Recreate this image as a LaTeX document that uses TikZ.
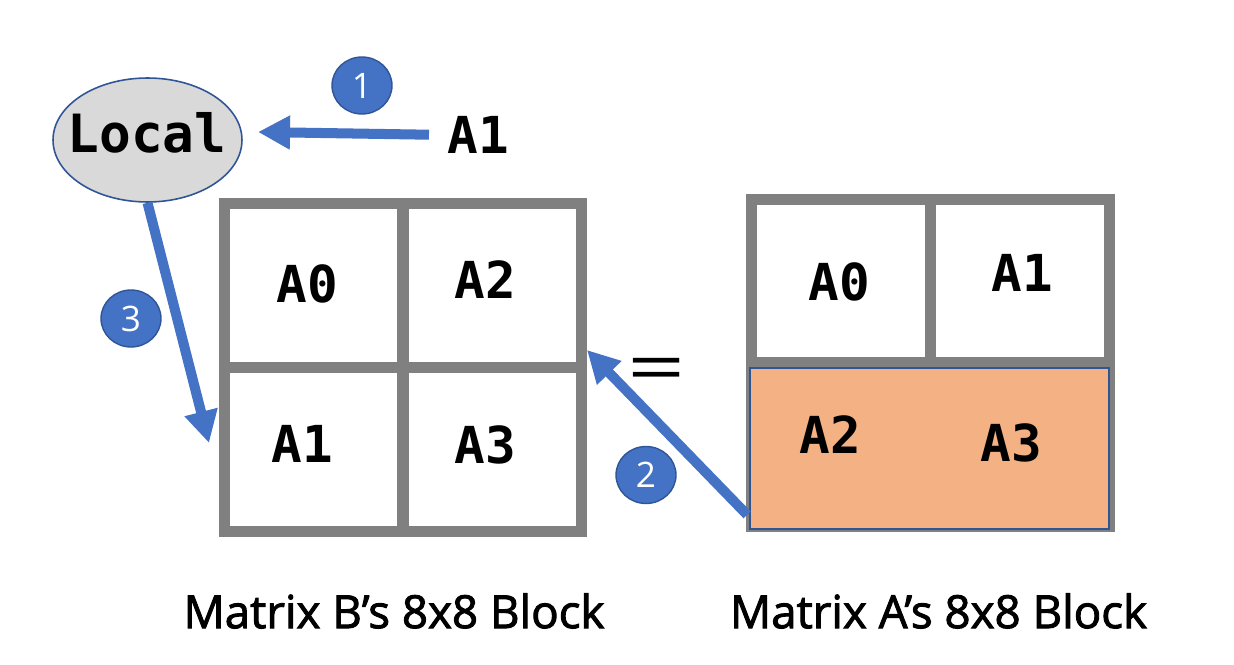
\documentclass[tikz,border=0pt]{standalone}
\usepackage{fontspec}
\setmainfont{Open Sans}
\setmonofont{DejaVu Sans Mono}
\usepackage{tikz}
\usetikzlibrary{
  arrows.meta,
  calc,
  shapes.geometric
}
\definecolor{StepBlue}{HTML}{4472C4}
\definecolor{EdgeBlue}{HTML}{2F5597}
\definecolor{GridGray}{HTML}{808080}
\definecolor{LocalGray}{HTML}{D9D9D9}
\definecolor{HalfOrange}{HTML}{F4B183}
\newfontfamily\captionfont[FakeBold=2]{Open Sans}

\begin{document}
\begin{tikzpicture}[
  x=0.02cm, y=-0.02cm,
  cell/.style={font=\fontsize{29}{34}\selectfont\ttfamily\bfseries, inner sep=0pt},
  block/.style={draw=GridGray, line width=6.3pt, inner sep=0pt},
  gridline/.style={draw=GridGray, line width=6.3pt},
  badge/.style={ellipse, fill=StepBlue, draw=EdgeBlue, line width=0.8pt,
                minimum width=1.2cm, minimum height=1.14cm, inner sep=0pt,
                text=white, font=\fontsize{20}{24}\selectfont},
  flow/.style={draw=StepBlue, line width=5.7pt,
               -{Triangle[length=0.64cm, width=0.64cm]}},
  caption/.style={font=\captionfont\fontsize{26}{30}\selectfont, inner sep=0pt},
]
  \useasboundingbox (0,0) rectangle (1234,665);

  % Matrix B's block
  \node[block, minimum width=7.14cm, minimum height=6.56cm] (gridB) at (403,367.5) {};
  \draw[gridline] (gridB.north) -- (gridB.south);
  \draw[gridline] (gridB.west) -- (gridB.east);
  \node[cell] (b0) at (307.5,283.5) {A0};
  \node[cell] (b2) at (485,280) {A2};
  \node[cell] (b1) at (302.5,443.5) {A1};
  \node[cell] (b3) at (485.5,444.5) {A3};

  % Matrix A's block
  \node[block, minimum width=7.16cm, minimum height=6.54cm] (gridA) at (930.5,363) {};
  \draw[gridline] (gridA.north) -- (gridA.center);
  \draw[gridline] (gridA.west) -- (gridA.east);
  \node[fill=HalfOrange, draw=EdgeBlue, line width=1pt, inner sep=0pt,
        minimum width=7.18cm, minimum height=3.22cm] (half) at (929.5,448.5) {};
  \node[cell] (a0) at (839.5,281.5) {A0};
  \node[cell] (a1) at (1022.5,273) {A1};
  \node[cell] (a2) at (830,434.5) {A2};
  \node[cell] (a3) at (1011.5,442.5) {A3};

  \node[font=\fontsize{40}{44}\selectfont, inner sep=0pt] (eq) at (656.5,375) {\scalebox{1.45}[1]{=}};

  % local register
  \node[ellipse, fill=LocalGray, draw=EdgeBlue, line width=0.9pt,
        minimum width=3.78cm, minimum height=2.48cm, inner sep=0pt] (local) at (147.5,140) {};
  \node[font=\fontsize{30}{34}\selectfont\ttfamily\bfseries, inner sep=0pt] (localtxt) at (147,133) {Local};
  \node[cell] (src) at (478,135) {A1};

  \coordinate (tip1) at (258,132);
  \coordinate (tip2) at (587,350);
  \coordinate (tip3) at (209,443);

  \draw[flow, shorten <=0.36cm] (src.west) -- (tip1);
  \draw[flow] ([xshift=-0.04cm, yshift=0.3cm]half.south west) -- (tip2);
  \draw[flow] (local.south) -- (tip3);

  \node[badge] (n1) at (362,85.5) {1};
  \node[badge] (n2) at (646,475) {2};
  \node[badge] (n3) at (131,318.5) {3};

  \node[caption] (capB) at (394,611) {Matrix B’s 8x8 Block};
  \node[caption] (capA) at (938.5,611) {Matrix A’s 8x8 Block};
\end{tikzpicture}
\end{document}
